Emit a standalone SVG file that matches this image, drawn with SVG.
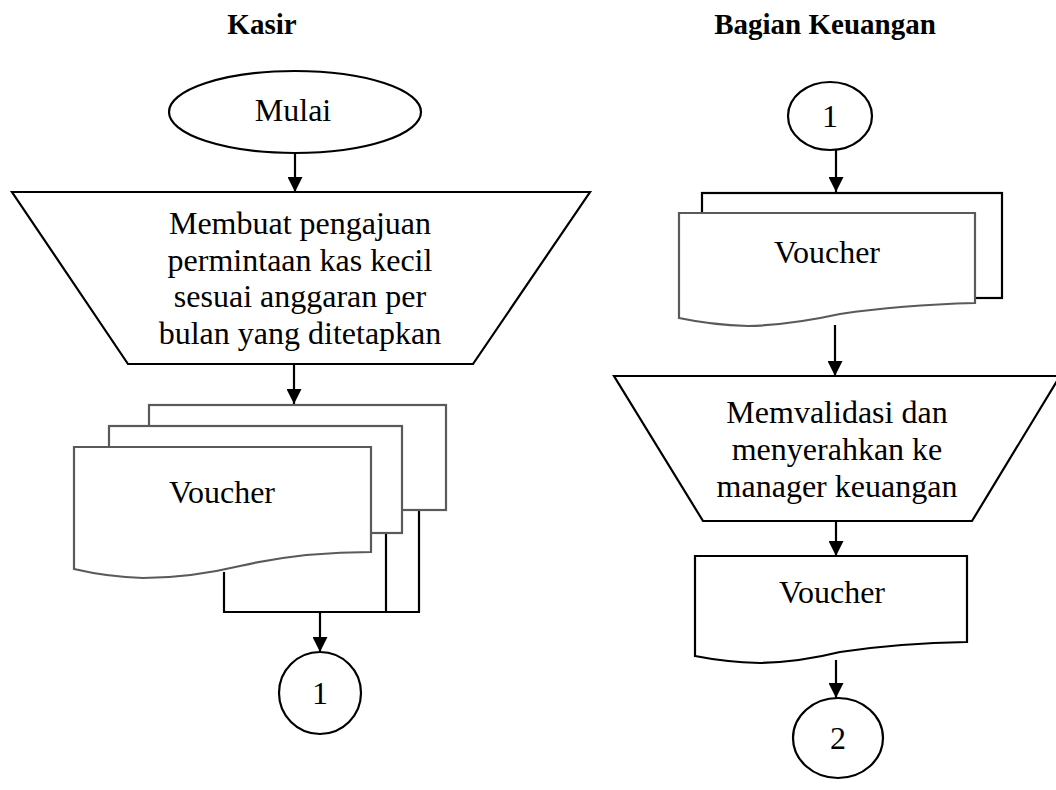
<svg xmlns="http://www.w3.org/2000/svg" width="1056" height="790" viewBox="0 0 1056 790">
  <defs>
    <marker id="arrow" markerWidth="15" markerHeight="15" refX="15" refY="7.5" orient="auto" markerUnits="userSpaceOnUse">
      <path d="M0,0 L15,7.5 L0,15 Z" fill="#000"/>
    </marker>
    <style>
      .shape { fill: #fff; stroke: #000; stroke-width: 2.2; }
      .doc-gray { fill: #fff; stroke: #5a5a5a; stroke-width: 2.2; }
      .line { fill: none; stroke: #000; stroke-width: 2.2; }
      .flow { fill: none; stroke: #000; stroke-width: 2.2; marker-end: url(#arrow); }
      .label { font-family: "Liberation Serif", "Times New Roman", serif; font-size: 32px; fill: #000; text-anchor: middle; }
      .title { font-family: "Liberation Serif", "Times New Roman", serif; font-size: 29px; font-weight: bold; fill: #000; text-anchor: middle; }
    </style>
  </defs>
  <rect width="1056" height="790" fill="#fff"/>

  <!-- lane titles -->
  <text class="title" x="262" y="34">Kasir</text>
  <text class="title" x="825" y="34">Bagian Keuangan</text>

  <!-- connectors -->
  <g id="connectors">
    <line class="flow" x1="295" y1="153" x2="295" y2="192"/>
    <line class="flow" x1="294" y1="364" x2="294" y2="404"/>
    <line class="line" x1="224" y1="572" x2="224" y2="612"/>
    <line class="line" x1="386" y1="533" x2="386" y2="612"/>
    <line class="line" x1="419" y1="510" x2="419" y2="612"/>
    <line class="line" x1="223" y1="612" x2="420" y2="612"/>
    <line class="flow" x1="320" y1="612" x2="320" y2="652"/>
    <line class="flow" x1="836" y1="150" x2="836" y2="192"/>
    <line class="flow" x1="835" y1="325" x2="835" y2="376"/>
    <line class="flow" x1="836" y1="521" x2="836" y2="556"/>
    <line class="flow" x1="836" y1="660" x2="836" y2="698"/>
  </g>

  <!-- Kasir lane -->
  <g id="start">
    <ellipse class="shape" cx="295" cy="112" rx="126" ry="41"/>
    <text class="label" x="293" y="121">Mulai</text>
  </g>

  <g id="manual-request">
    <polygon class="shape" points="12,192 590,192 473,364 128,364"/>
    <text class="label" x="300" y="234">Membuat pengajuan</text>
    <text class="label" x="300" y="271">permintaan kas kecil</text>
    <text class="label" x="300" y="307">sesuai anggaran per</text>
    <text class="label" x="300" y="344">bulan yang ditetapkan</text>
  </g>

  <g id="voucher-copies">
    <rect class="doc-gray" x="149" y="405" width="297" height="105"/>
    <rect class="doc-gray" x="109" y="426" width="293" height="107"/>
    <path class="doc-gray" d="M74,447 H371 V552 Q300,552 240,566 Q190,578 143,578 Q108,577 74,569 Z"/>
    <text class="label" x="222" y="503">Voucher</text>
  </g>

  <g id="connector-1-out">
    <circle class="shape" cx="320" cy="693" r="41"/>
    <text class="label" x="320" y="704">1</text>
  </g>

  <!-- Bagian Keuangan lane -->
  <g id="connector-1-in">
    <ellipse class="shape" cx="830" cy="116" rx="42" ry="34"/>
    <text class="label" x="830" y="127">1</text>
  </g>

  <g id="voucher-received">
    <rect class="shape" x="702" y="193" width="300" height="105"/>
    <path class="doc-gray" d="M679,213 H975 V303 Q900,305 840,314 Q790,325 748,326 Q712,325 679,318 Z"/>
    <text class="label" x="827" y="263">Voucher</text>
  </g>

  <g id="manual-validate">
    <polygon class="shape" points="614,376 1060,376 972,521 703,521"/>
    <text class="label" x="837" y="423">Memvalidasi dan</text>
    <text class="label" x="837" y="460">menyerahkan ke</text>
    <text class="label" x="837" y="497">manager keuangan</text>
  </g>

  <g id="voucher-forwarded">
    <path class="shape" d="M695,556 H967 V642 Q900,643 840,652 Q800,662 760,663 Q725,662 695,656 Z"/>
    <text class="label" x="832" y="603">Voucher</text>
  </g>

  <g id="connector-2">
    <ellipse class="shape" cx="838" cy="738" rx="45" ry="40"/>
    <text class="label" x="838" y="749">2</text>
  </g>
</svg>
